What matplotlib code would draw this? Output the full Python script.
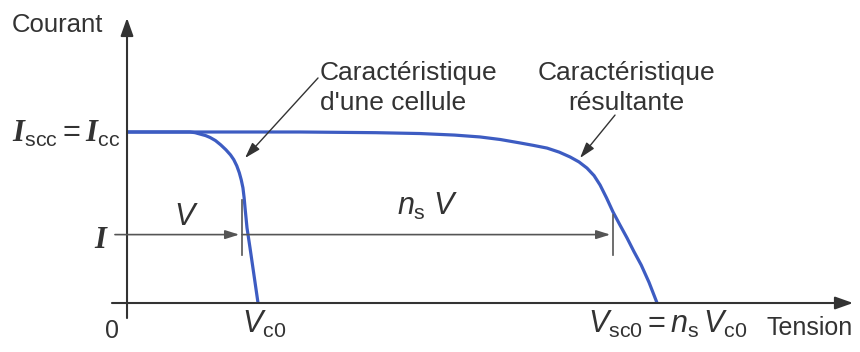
import matplotlib.pyplot as plt

plt.rcParams['font.family'] = ['Liberation Sans', 'DejaVu Sans']
plt.rcParams['mathtext.fontset'] = 'custom'
plt.rcParams['mathtext.it'] = 'Liberation Sans:italic'
plt.rcParams['mathtext.rm'] = 'Liberation Sans'
plt.rcParams['mathtext.sf'] = 'Liberation Sans'
plt.rcParams['mathtext.bf'] = 'Liberation Serif:italic:bold'

# tension en unites de Vc0, courant en unites de Icc
v_cellule = [0, 0.481, 0.52, 0.557, 0.60, 0.634, 0.675, 0.715, 0.755, 0.79, 0.815, 0.838, 0.857,
             0.872, 0.885, 0.894, 0.901, 0.916, 0.939, 0.969, 1.0]
i_cellule = [1.0, 1.0, 0.996, 0.988, 0.979, 0.968, 0.950, 0.925, 0.896, 0.866, 0.838, 0.802, 0.762,
             0.720, 0.673, 0.615, 0.556, 0.439, 0.322, 0.164, 0.0]

v_result = [0, 1.321, 1.9, 2.237, 2.5, 2.695, 2.85, 3.0, 3.1, 3.206, 3.3, 3.382, 3.45,
            3.511, 3.565, 3.611, 3.66, 3.710, 3.76, 3.817, 3.87, 3.925, 3.985, 4.046]
i_result = [1.0, 1.0, 0.996, 0.991, 0.982, 0.971, 0.956, 0.936, 0.922, 0.906, 0.882, 0.854, 0.825,
            0.789, 0.745, 0.690, 0.615, 0.532, 0.460, 0.380, 0.300, 0.222, 0.120, 0.0]

i_point = 0.40      # courant I du point de fonctionnement
v_point = 0.878     # tension V d'une cellule
nsv_point = 3.71    # tension ns V du module

bleu = '#3d5cc2'
gris = '#333333'

fig = plt.figure(figsize=(8.6, 3.52), dpi=100)
ax = fig.add_axes([0, 0, 1, 1])
ax.set_xlim(-0.9695, 5.595)
ax.set_ylim(-0.2865, 1.7719)
ax.axis('off')

# axes avec fleches
fleche = dict(arrowstyle='-|>,head_length=0.9,head_width=0.32', color=gris,
              lw=1.5, shrinkA=0, shrinkB=0, mutation_scale=12)
ax.annotate('', xy=(0, 1.667), xytext=(0, -0.088), arrowprops=fleche)
ax.annotate('', xy=(5.542, 0), xytext=(-0.115, 0), arrowprops=fleche)

# courbes I-V
ax.plot(v_result, i_result, color=bleu, lw=2.3, solid_joinstyle='round', solid_capstyle='butt')
ax.plot(v_cellule, i_cellule, color=bleu, lw=2.3, solid_joinstyle='round', solid_capstyle='butt')

# cotes V et ns V
cote = dict(arrowstyle='-|>,head_length=0.7,head_width=0.22', color='#555555',
            lw=1.2, shrinkA=0, shrinkB=2, mutation_scale=12)
ax.annotate('', xy=(v_point, i_point), xytext=(-0.092, i_point), arrowprops=cote)
ax.annotate('', xy=(nsv_point, i_point), xytext=(v_point, i_point), arrowprops=cote)
ax.plot([v_point, v_point], [0.281, 0.60], color='#555555', lw=1.2)
ax.plot([nsv_point, nsv_point], [0.281, 0.515], color='#555555', lw=1.2)

# renvois vers les courbes
renvoi = dict(arrowstyle='-|>,head_length=0.8,head_width=0.25', color=gris,
              lw=1.0, shrinkA=0, shrinkB=0, mutation_scale=12)
ax.annotate('', xy=(0.901, 0.848), xytext=(1.458, 1.316), arrowprops=renvoi)
ax.annotate('', xy=(3.458, 0.848), xytext=(3.725, 1.099), arrowprops=renvoi)

txt = dict(color=gris, fontsize=19)
ax.text(1.473, 1.304, 'Caractéristique', ha='left', va='baseline', **txt)
ax.text(1.473, 1.129, "d'une cellule", ha='left', va='baseline', **txt)
ax.text(3.809, 1.304, 'Caractéristique', ha='center', va='baseline', **txt)
ax.text(3.809, 1.129, 'résultante', ha='center', va='baseline', **txt)

ax.text(-0.878, 1.585, 'Courant', ha='left', va='baseline', color=gris, fontsize=18.5)
ax.text(4.885, -0.187, 'Tension', ha='left', va='baseline', color=gris, fontsize=18)
ax.text(-0.115, -0.205, '0', ha='center', va='baseline', color=gris, fontsize=18)

maths = dict(color=gris, fontsize=22, va='baseline')
ax.text(-0.053, 0.942, r'$\mathbf{I}_{\mathsf{scc}} = \mathbf{I}_{\mathsf{cc}}$', ha='right', **maths)
ax.text(-0.137, 0.322, r'$\mathbf{I}$', ha='right', **maths)
ax.text(0.450, 0.456, r'$V$', ha='center', **maths)
ax.text(2.061, 0.515, r'$n_{\mathsf{s}}\ V$', ha='left', **maths)
ax.text(0.878, -0.175, r'$V_{\mathsf{c0}}$', ha='left', **maths)
ax.text(3.519, -0.175, r'$V_{\mathsf{sc0}} = n_{\mathsf{s}}\,V_{\mathsf{c0}}$', ha='left', **maths)

fig.savefig('out.png', dpi=100)
